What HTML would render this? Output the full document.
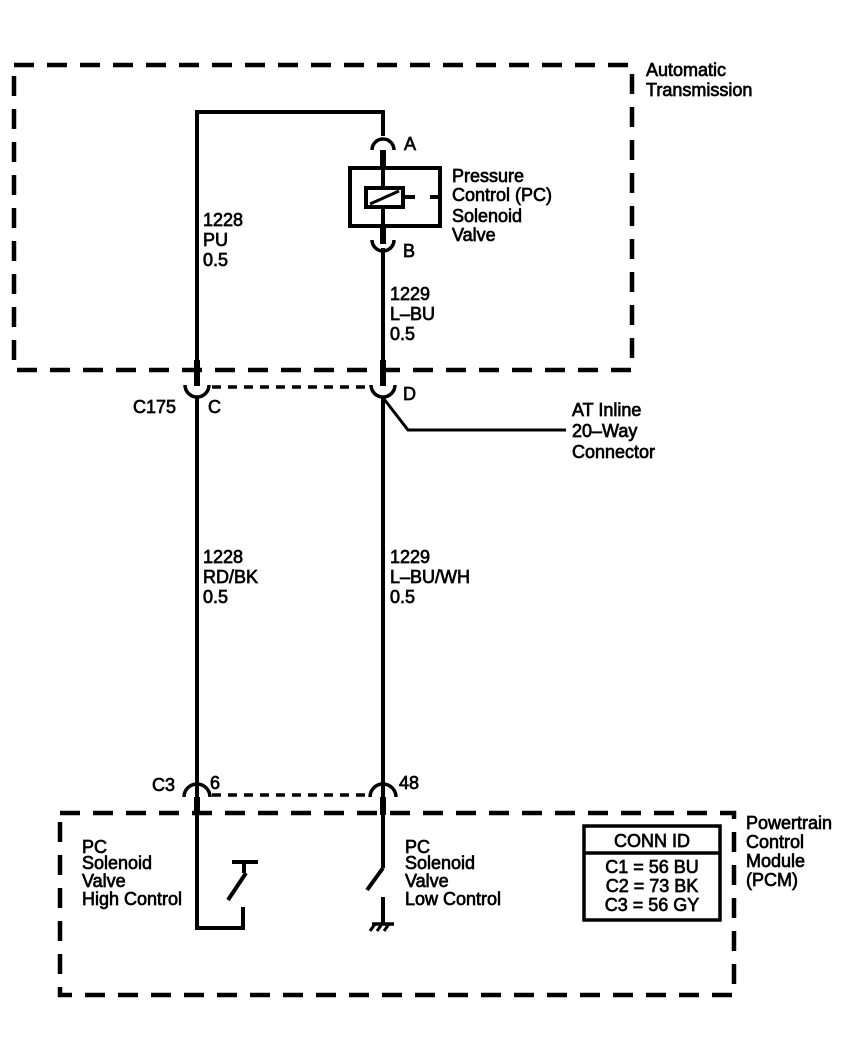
<!DOCTYPE html>
<html><head><meta charset="utf-8"><style>
html,body{margin:0;padding:0;background:#fff;}
svg{display:block;}
text{font-family:"Liberation Sans",sans-serif;font-size:18px;fill:#000;stroke:#000;stroke-width:0.7px;}
</style></head><body>
<svg width="864" height="1052" viewBox="0 0 864 1052" xmlns="http://www.w3.org/2000/svg">
<g fill="none" stroke="#000">
<rect x="14" y="65" width="618" height="305" stroke-width="4.5" stroke-dasharray="20 13"/>
<rect x="60" y="813" width="674" height="182" stroke-width="4.5" stroke-dasharray="20 13"/>
<polyline points="197,363 197,112 383,112 383,136" stroke-width="4"/>
<path d="M372,150 A11,11 0 0 1 394,150" stroke-width="3.5"/>
<line x1="383" y1="150" x2="383" y2="168" stroke-width="6"/>
<rect x="350" y="168" width="90" height="58" stroke-width="4"/>
<line x1="383" y1="168" x2="383" y2="188" stroke-width="4"/>
<line x1="383" y1="206" x2="383" y2="226" stroke-width="4"/>
<rect x="366" y="188" width="37" height="19" stroke-width="4"/>
<line x1="370" y1="204" x2="399" y2="191" stroke-width="3"/>
<line x1="403" y1="197" x2="415" y2="197" stroke-width="4"/>
<line x1="430" y1="197" x2="440" y2="197" stroke-width="4"/>
<line x1="383" y1="226" x2="383" y2="244" stroke-width="6"/>
<path d="M372,240 A11,11 0 0 0 394,240" stroke-width="3.5"/>
<line x1="383" y1="248" x2="383" y2="363" stroke-width="4"/>
<line x1="197" y1="360" x2="197" y2="386" stroke-width="6"/>
<line x1="383" y1="360" x2="383" y2="386" stroke-width="6"/>
<path d="M185,385 A12,12 0 0 0 209,385" stroke-width="3.5"/>
<path d="M371,385 A12,12 0 0 0 395,385" stroke-width="3.5"/>
<line x1="212" y1="387" x2="368" y2="387" stroke-width="3.5" stroke-dasharray="9 7"/>
<line x1="197" y1="397" x2="197" y2="797" stroke-width="4"/>
<line x1="383" y1="397" x2="383" y2="797" stroke-width="4"/>
<polyline points="384,399 408,430 566,430" stroke-width="3"/>
<path d="M184,797 A13,13 0 0 1 210,797" stroke-width="3.5"/>
<path d="M370,797 A13,13 0 0 1 396,797" stroke-width="3.5"/>
<line x1="212" y1="795" x2="368" y2="795" stroke-width="3.5" stroke-dasharray="9 7"/>
<line x1="197" y1="797" x2="197" y2="815" stroke-width="6"/>
<line x1="383" y1="797" x2="383" y2="815" stroke-width="6"/>
<polyline points="197,815 197,928 243,928 243,907" stroke-width="4"/>
<line x1="228" y1="900" x2="246" y2="873" stroke-width="4"/>
<line x1="232" y1="862" x2="258" y2="862" stroke-width="4"/>
<line x1="244" y1="860" x2="244" y2="873" stroke-width="4"/>
<line x1="383" y1="815" x2="383" y2="868" stroke-width="4"/>
<line x1="383" y1="868" x2="367" y2="890" stroke-width="4"/>
<line x1="383" y1="897" x2="383" y2="924" stroke-width="4"/>
<line x1="372" y1="924" x2="394" y2="924" stroke-width="3.5"/>
<line x1="375" y1="924" x2="370" y2="931" stroke-width="3"/>
<line x1="382" y1="924" x2="377" y2="931" stroke-width="3"/>
<line x1="389" y1="924" x2="384" y2="931" stroke-width="3"/>
<rect x="584" y="826" width="136" height="94" stroke-width="3.5"/>
<line x1="584" y1="853" x2="720" y2="853" stroke-width="3.5"/>
</g>
<text x="646" y="76">Automatic</text>
<text x="646" y="96">Transmission</text>
<text x="404" y="150">A</text>
<text x="403" y="257">B</text>
<text x="452" y="182">Pressure</text>
<text x="452" y="201">Control (PC)</text>
<text x="452" y="222">Solenoid</text>
<text x="452" y="241">Valve</text>
<text x="203" y="226">1228</text>
<text x="203" y="246">PU</text>
<text x="203" y="266">0.5</text>
<text x="390" y="300">1229</text>
<text x="390" y="320">L–BU</text>
<text x="390" y="340">0.5</text>
<text x="133" y="413">C175</text>
<text x="208" y="413">C</text>
<text x="403" y="400">D</text>
<text x="572" y="416">AT Inline</text>
<text x="572" y="437">20–Way</text>
<text x="572" y="458">Connector</text>
<text x="203" y="563">1228</text>
<text x="203" y="583">RD/BK</text>
<text x="203" y="603">0.5</text>
<text x="390" y="563">1229</text>
<text x="390" y="583">L–BU/WH</text>
<text x="390" y="603">0.5</text>
<text x="152" y="791">C3</text>
<text x="210" y="789">6</text>
<text x="399" y="789">48</text>
<text x="82" y="853">PC</text>
<text x="82" y="869">Solenoid</text>
<text x="82" y="887">Valve</text>
<text x="82" y="905">High Control</text>
<text x="405" y="853">PC</text>
<text x="405" y="869">Solenoid</text>
<text x="405" y="887">Valve</text>
<text x="405" y="905">Low Control</text>
<text x="746" y="829">Powertrain</text>
<text x="746" y="848">Control</text>
<text x="746" y="867">Module</text>
<text x="746" y="886">(PCM)</text>
<text x="652" y="847" text-anchor="middle">CONN ID</text>
<text x="652" y="873" text-anchor="middle">C1 = 56 BU</text>
<text x="652" y="892" text-anchor="middle">C2 = 73 BK</text>
<text x="652" y="911" text-anchor="middle">C3 = 56 GY</text>
</svg>
</body></html>
